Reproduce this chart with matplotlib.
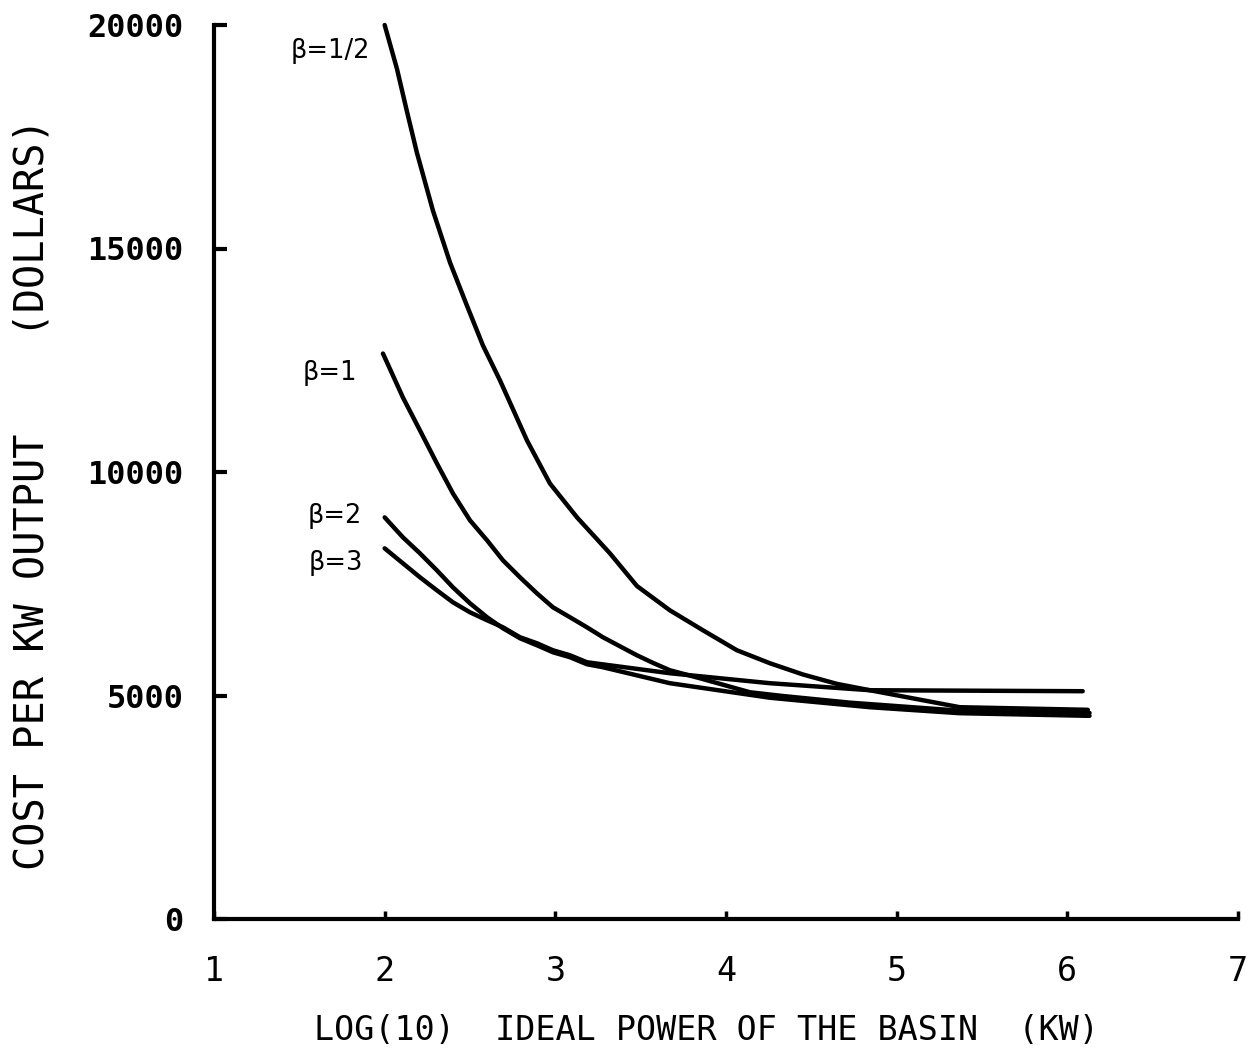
import matplotlib
matplotlib.use("Agg")
import matplotlib.pyplot as plt

# ---- data ----
x_half = [2.00, 2.072, 2.131, 2.189, 2.283, 2.383, 2.482, 2.576, 2.676, 2.834, 2.968, 3.127,
          3.320, 3.478, 3.671, 3.865, 4.064, 4.257, 4.451, 4.650, 4.843, 5.370, 6.120]
y_half = [20000, 19020, 18059, 17142, 15846, 14684, 13723, 12829, 12047, 10706, 9745, 8985,
          8180, 7450, 6906, 6459, 6012, 5722, 5470, 5260, 5118, 4738, 4680]

x_one = [1.99, 2.107, 2.207, 2.306, 2.400, 2.500, 2.600, 2.693, 2.793, 2.892, 2.986, 3.086,
         3.185, 3.279, 3.379, 3.478, 3.572, 3.671, 3.847, 4.14, 4.33, 4.726, 5.37, 6.13]
y_one = [12650, 11667, 10929, 10192, 9521, 8918, 8471, 8024, 7644, 7286, 6973, 6750,
         6526, 6303, 6100, 5900, 5730, 5565, 5386, 5073, 4990, 4840, 4660, 4610]

x_two = [2.00, 2.107, 2.207, 2.306, 2.400, 2.500, 2.600, 2.693, 2.793, 2.892, 2.986, 3.086,
         3.185, 3.279, 3.671, 4.257, 4.843, 5.37, 6.13]
y_two = [8985, 8538, 8180, 7800, 7420, 7063, 6750, 6504, 6280, 6124, 5967, 5856,
         5699, 5632, 5275, 4950, 4738, 4604, 4545]

x_three = [2.00, 2.107, 2.207, 2.306, 2.400, 2.500, 2.600, 2.693, 2.793, 2.892, 2.986, 3.086,
           3.185, 3.671, 4.257, 4.843, 6.09]
y_three = [8292, 7957, 7644, 7353, 7085, 6861, 6683, 6526, 6303, 6169, 6012, 5900,
           5744, 5498, 5275, 5118, 5096]

curve_labels = ["\u03b2=1/2", "\u03b2=1", "\u03b2=2", "\u03b2=3"]
x_ticks = [1, 2, 3, 4, 5, 6, 7]
y_ticks = [0, 5000, 10000, 15000, 20000]

# label anchor positions (data coords, right-aligned)
label_pos = [(1.915, 19420), (1.84, 12225), (1.867, 9007), (1.873, 7957)]

W, H = 1248, 1054
fig = plt.figure(figsize=(W / 100, H / 100), dpi=100)
ax = fig.add_axes([214 / W, (H - 919) / H, (1238 - 214) / W, (919 - 25) / H])

for xs, ys in [(x_half, y_half), (x_one, y_one), (x_two, y_two), (x_three, y_three)]:
    ax.plot(xs, ys, color="black", lw=3.2, solid_capstyle="round",
            solid_joinstyle="round", clip_on=False)

for txt, (tx, ty) in zip(curve_labels, label_pos):
    ax.text(tx, ty, txt, ha="right", va="center", fontsize=18.5,
            family="DejaVu Sans", color="black")

ax.set_xlim(1, 7)
ax.set_ylim(0, 20000)
ax.set_xticks(x_ticks)
ax.set_yticks(y_ticks)
ax.set_xticklabels([str(v) for v in x_ticks], family="DejaVu Sans Mono", fontsize=24)
ax.set_yticklabels([str(v) for v in y_ticks], family="DejaVu Sans Mono",
                   fontweight="bold", fontsize=23)

for s in ["top", "right"]:
    ax.spines[s].set_visible(False)
for s in ["left", "bottom"]:
    ax.spines[s].set_linewidth(3)
ax.tick_params(axis="y", direction="in", length=9, width=3, pad=22)
ax.tick_params(axis="x", direction="in", length=6, width=2.5, pad=26)

fig.text(706 / W, (H - 1030) / H, "LOG(10)  IDEAL POWER OF THE BASIN  (KW)",
         ha="center", va="center", family="DejaVu Sans Mono", fontsize=24)
fig.text(33 / W, (H - 494) / H, "COST PER KW OUTPUT    (DOLLARS)",
         ha="center", va="center", rotation=90, family="DejaVu Sans Mono", fontsize=29)

fig.savefig("out.png", dpi=100, facecolor="white")
